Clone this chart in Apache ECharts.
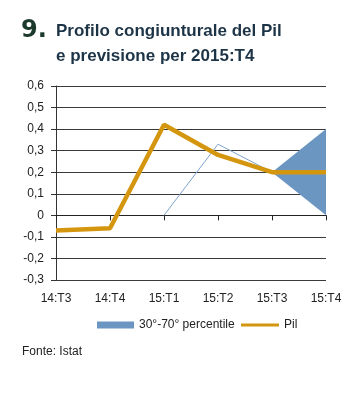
<!DOCTYPE html>
<html><head><meta charset="utf-8">
<script src="https://cdn.jsdelivr.net/npm/echarts@6/dist/echarts.min.js"></script>
<style>html,body{margin:0;padding:0;background:#fff}#c{width:361px;height:400px}</style>
</head><body><div id="c"></div>
<script>
const categories = ['14:T3','14:T4','15:T1','15:T2','15:T3','15:T4'];
const pil = [-0.07, -0.06, 0.42, 0.28, 0.2, 0.2];
const thinLine = [null, null, 0, 0.33, 0.2, null];
const bandLower = [null, null, null, null, 0.2, 0.0];
const bandWidth = [null, null, null, null, 0, 0.4];
const yTicks = {min: -0.3, max: 0.6, step: 0.1};
const bandName = '30°-70° percentile';
const pilName = 'Pil';

const chart = echarts.init(document.getElementById('c'));
const font = 'Liberation Sans, Arial, sans-serif';
chart.setOption({
  animation: false,
  graphic: [
    {type:'text', left: 21, top: 19, style:{text:'9.', font:'bold 24px "DejaVu Sans", Arial', fill:'#1b3a2c'}},
    {type:'text', left: 56, top: 23, style:{text:'Profilo congiunturale del Pil', font:'bold 17px "Liberation Sans", Arial', fill:'#1d3447'}},
    {type:'text', left: 56, top: 48, style:{text:'e previsione per 2015:T4', font:'bold 17px "Liberation Sans", Arial', fill:'#1d3447'}},
    {type:'text', left: 22, top: 346, style:{text:'Fonte: Istat', font:'12px "Liberation Sans", Arial', fill:'#222'}}
  ],
  grid: {left: 56, right: 35, top: 86, bottom: 120},
  legend: [
    {data:[{name: bandName, icon:'rect'}], left: 92, top: 314, itemWidth: 37, itemHeight: 7, itemGap: 4,
     textStyle:{fontFamily: font, fontSize: 12, color:'#222'}},
    {data:[{name: pilName, icon:'rect'}], left: 236, top: 314, itemWidth: 38, itemHeight: 3, itemGap: 4,
     textStyle:{fontFamily: font, fontSize: 12, color:'#222'}}
  ],
  xAxis: [
    {type:'category', data: categories, boundaryGap: false, position:'bottom',
     axisLine:{onZero:true, lineStyle:{color:'#222', width:1}},
     axisTick:{show:true, length:5, lineStyle:{color:'#222'}},
     axisLabel:{show:false}, splitLine:{show:false}},
    {type:'category', data: categories, boundaryGap: false, position:'bottom',
     axisLine:{show:false, onZero:false}, axisTick:{show:false},
     axisLabel:{show:true, margin: 13, fontFamily: font, fontSize: 12, color:'#222'}}
  ],
  yAxis: {
    type:'value', min: yTicks.min, max: yTicks.max, interval: yTicks.step,
    axisLine:{show:true, lineStyle:{color:'#333'}},
    axisTick:{show:true, length:5, lineStyle:{color:'#333'}},
    axisLabel:{margin: 12, fontFamily: font, fontSize: 12, color:'#222',
      formatter: v => { const r = Math.round(v*10)/10; return r === 0 ? '0' : r.toFixed(1).replace('.', ','); }},
    splitLine:{show:true, lineStyle:{color:'#3a3a3a', width:1}}
  },
  series: [
    {name:'base', type:'line', stack:'band', data: bandLower, symbol:'none',
     lineStyle:{width:0, opacity:0}, silent:true, z:2},
    {name: bandName, type:'line', stack:'band', data: bandWidth, symbol:'none',
     lineStyle:{width:0, opacity:0}, itemStyle:{color:'#6c96c2'},
     areaStyle:{color:'#6c96c2', opacity:1}, z:2},
    {name:'outline', type:'line', data: thinLine, symbol:'none',
     lineStyle:{width:1, color:'#7ea3cb'}, itemStyle:{color:'#7ea3cb'}, z:3},
    {name: pilName, type:'line', data: pil, symbol:'none',
     lineStyle:{width:4.5, color:'#d4960f'}, itemStyle:{color:'#d4960f'}, z:4}
  ]
});
</script></body></html>
